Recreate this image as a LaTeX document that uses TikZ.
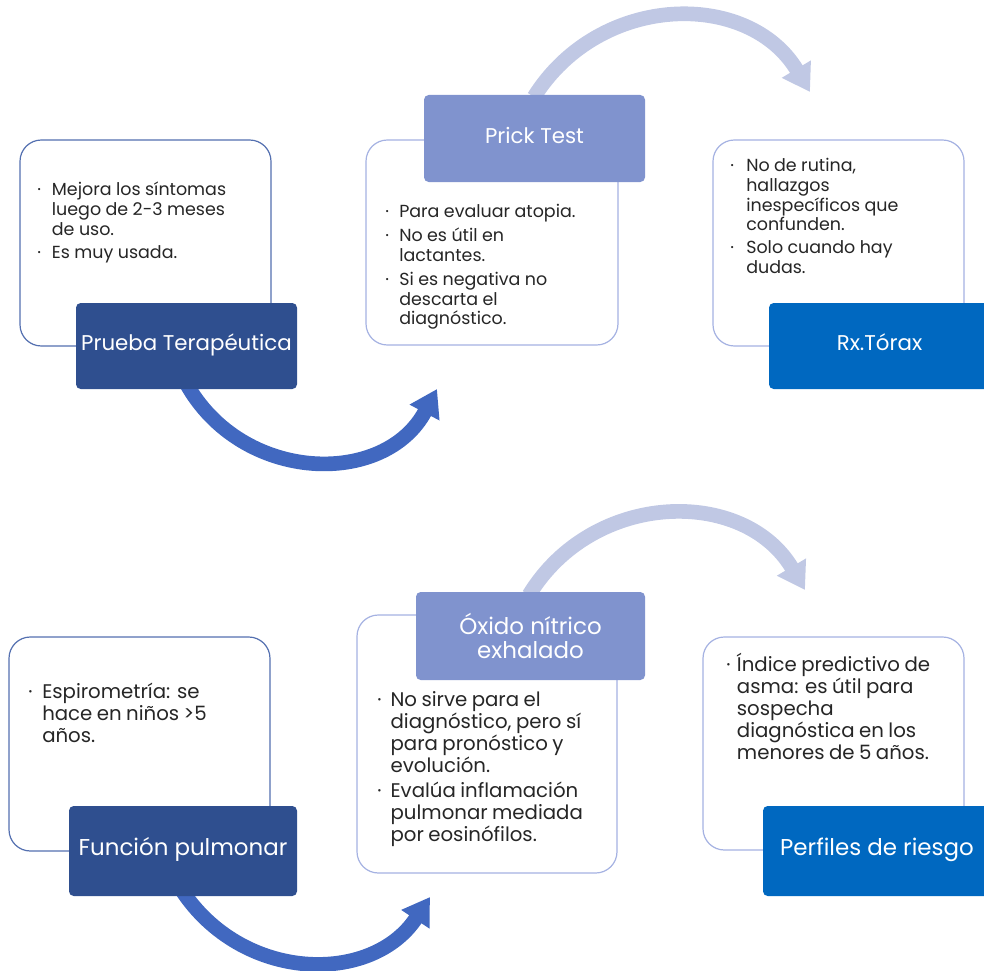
\documentclass[tikz,border=0pt]{standalone}
\usepackage{fontspec}
\setmainfont{Poppins}
\usetikzlibrary{arrows.meta,calc}
\definecolor{hdark}{RGB}{47,79,143}
\definecolor{hlav}{RGB}{128,147,206}
\definecolor{hblue}{RGB}{0,104,192}
\definecolor{arcdark}{RGB}{65,104,192}
\definecolor{arclight}{RGB}{192,200,228}
\definecolor{borddark}{RGB}{84,112,176}
\definecolor{bordlight}{RGB}{165,178,226}
\definecolor{txtc}{RGB}{38,38,38}
\newlength\bw
\newcommand\bfirst[1]{\noindent\hangindent=\bw\hangafter=1\makebox[\bw][l]{·}#1}
\newcommand\bitem[1]{\par\noindent\hangindent=\bw\hangafter=1\makebox[\bw][l]{·}#1}
\newcommand\topfont{\fontsize{13.1}{14.8}\selectfont}
\newcommand\botfont{\fontsize{14.8}{16.5}\selectfont}
\newcommand\hdtop{\fontsize{16}{18.2}\selectfont}
\newcommand\hdbot{\fontsize{17.2}{18.2}\selectfont}
\tikzset{
  cbox/.style={draw=#1, line width=0.9pt, fill=white, rounded corners=16pt, inner sep=0pt},
  cbox/.default=bordlight,
  hbox/.style={fill=#1, rounded corners=3.5pt, inner sep=0pt, text=white, align=center},
  hone/.style={text height=10.5pt, text depth=3.5pt},
  txt/.style={anchor=base west, inner sep=0pt, text width=250pt, align=left, text=txtc},
  bigarc/.style={line width=11pt, draw=#1, -{Triangle[length=20pt,width=24pt]}},
}
\def\pu{0.75pt}
\begin{document}
\begin{tikzpicture}[x=0.75pt,y=-0.75pt]
\useasboundingbox (0,0) rectangle (984,970);
% arrow end coordinates
\coordinate (a1s) at (186,383);
\coordinate (a1e) at (437,389);
\coordinate (a2s) at (534,97);
\coordinate (a2e) at (810,92);
\coordinate (a3s) at (181,889);
\coordinate (a3e) at (430,897);
\coordinate (a4s) at (529,595);
\coordinate (a4e) at (805,590);
% arcs
\draw[bigarc=arcdark] (a1s) .. controls (242,484) and (385,487) .. (a1e);
\draw[bigarc=arclight] (a2s) .. controls (600,-8) and (749,-10) .. (a2e);
\draw[bigarc=arcdark] (a3s) .. controls (242,983) and (372,985) .. (a3e);
\draw[bigarc=arclight] (a4s) .. controls (593,490) and (744,487) .. (a4e);
% content boxes
\node[cbox=borddark, minimum width=251*\pu, minimum height=206*\pu] (c1) at (145.5,243) {};
\node[cbox, minimum width=252*\pu, minimum height=205*\pu] (c2) at (492,242.5) {};
\node[cbox, minimum width=251*\pu, minimum height=206*\pu] (c3) at (838.5,243) {};
\node[cbox=borddark, minimum width=261*\pu, minimum height=214*\pu] (c4) at (139.5,744) {};
\node[cbox, minimum width=260*\pu, minimum height=258*\pu] (c5) at (487,744) {};
\node[cbox, minimum width=261*\pu, minimum height=213*\pu] (c6) at (833.5,743.5) {};
% headers
\node[hbox=hdark, hone, font=\hdtop, minimum width=221*\pu, minimum height=86*\pu] (h1) at (186.5,346) {Prueba Terapéutica};
\node[hbox=hlav, hone, font=\hdtop, minimum width=221*\pu, minimum height=87*\pu] (h2) at (534.5,138.5) {Prick Test};
\node[hbox=hblue, hone, font=\hdtop, minimum width=221*\pu, minimum height=86*\pu] (h3) at (879.5,346) {Rx.Tórax};
\node[hbox=hdark, hone, font=\hdbot, minimum width=228*\pu, minimum height=90*\pu] (h4) at (183,851) {Función pulmonar};
\node[hbox=hlav, font=\hdbot, minimum width=229*\pu, minimum height=88*\pu] (h5) at (530.5,636) {Óxido nítrico\\exhalado};
\node[hbox=hblue, hone, font=\hdbot, minimum width=228*\pu, minimum height=90*\pu] (h6) at (877,851) {Perfiles de riesgo};
% texts
\node[txt] (t1) at (37,195.7) {\topfont\setlength\bw{11pt}\setlength\parskip{2.8pt}%
\bfirst{Mejora los síntomas\newline luego de 2-3 meses\newline de uso.}%
\bitem{Es muy usada.}\par};
\node[txt] (t2) at (385,217.7) {\topfont\setlength\bw{10.5pt}\setlength\parskip{3.2pt}%
\bfirst{Para evaluar atopia.}%
\bitem{No es útil en\newline lactantes.}%
\bitem{Si es negativa no\newline descarta el\newline diagnóstico.}\par};
\node[txt] (t3) at (730,171.7) {\topfont\setlength\bw{12pt}\setlength\parskip{2pt}%
\bfirst{No de rutina,\newline hallazgos\newline inespecíficos que\newline confunden.}%
\bitem{Solo cuando hay\newline dudas.}\par};
\node[txt] (t4) at (28,698.3) {\botfont\setlength\bw{10.5pt}%
\bfirst{Espirometría: se\newline hace en niños >5\newline años.}\par};
\node[txt] (t5) at (377,706) {\botfont\setlength\bw{10pt}\setlength\parskip{2.6pt}%
\bfirst{No sirve para el\newline diagnóstico, pero sí\newline para pronóstico y\newline evolución.}%
\bitem{Evalúa inflamación\newline pulmonar mediada\newline por eosinófilos.}\par};
\node[txt] (t6) at (726,671.7) {\botfont\setlength\bw{8pt}%
\bfirst{Índice predictivo de\newline asma: es útil para\newline sospecha\newline diagnóstica en los\newline menores de 5 años.}\par};
\end{tikzpicture}
\end{document}
